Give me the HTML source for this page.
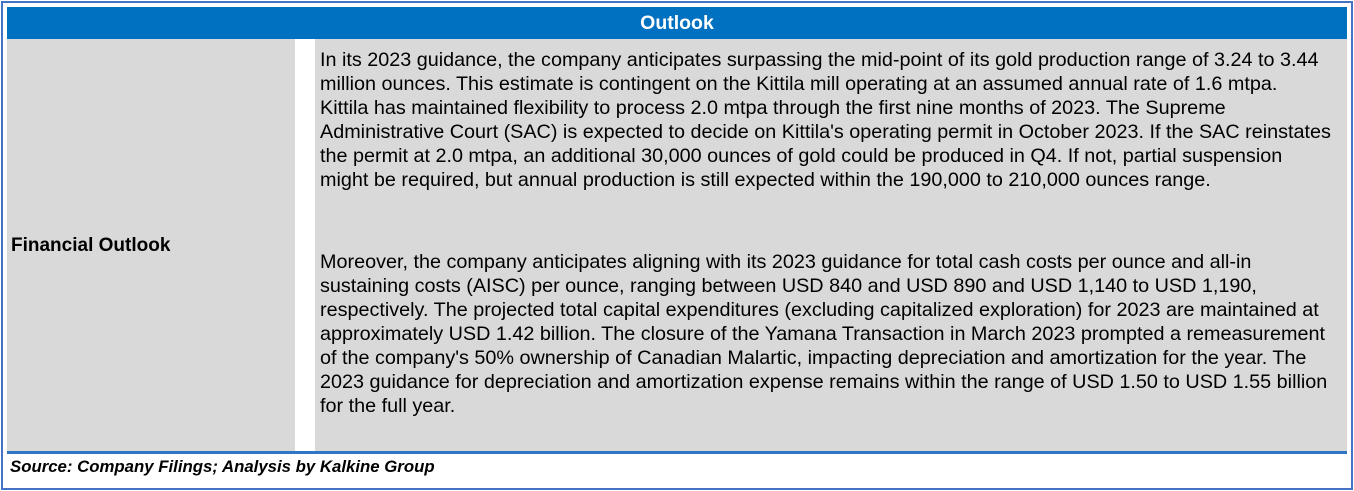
<!DOCTYPE html>
<html><head><meta charset="utf-8"><style>
html,body{margin:0;padding:0;background:#fff;}
body{width:1354px;height:491px;position:relative;overflow:hidden;font-family:"Liberation Sans",sans-serif;color:#000;}
#frame{position:absolute;left:1px;top:1px;width:1348px;height:485px;border:2px solid #4472C4;}
#hdr{position:absolute;left:7px;top:7px;width:1340px;height:32px;background:#0070C0;color:#fff;font-weight:bold;font-size:19.5px;text-align:center;line-height:32px;}
#lc{position:absolute;left:7px;top:39px;width:288px;height:413px;background:#D9D9D9;}
#lc span{position:absolute;left:4px;top:196px;font-weight:bold;font-size:19px;}
#rc{position:absolute;left:315px;top:39px;width:1032px;height:413px;background:#D9D9D9;overflow:hidden;}
.l{position:absolute;left:5px;white-space:nowrap;font-size:19.8px;line-height:24px;}
#rule{position:absolute;left:7px;top:451px;width:1340px;height:3px;background:#2E75C6;}
#src{position:absolute;left:10px;top:457px;font-weight:bold;font-style:italic;font-size:16.8px;}
</style></head><body>
<div id="frame"></div>
<div id="hdr">Outlook</div>
<div id="lc"><span>Financial Outlook</span></div>
<div id="rc">
<div class="l" style="top:9px">In its 2023 guidance, the company anticipates surpassing the mid-point of its gold production range of 3.24 to 3.44</div>
<div class="l" style="top:33px">million ounces. This estimate is contingent on the Kittila mill operating at an assumed annual rate of 1.6 mtpa.</div>
<div class="l" style="top:57px">Kittila has maintained flexibility to process 2.0 mtpa through the first nine months of 2023. The Supreme</div>
<div class="l" style="top:81px">Administrative Court (SAC) is expected to decide on Kittila's operating permit in October 2023. If the SAC reinstates</div>
<div class="l" style="top:105px">the permit at 2.0 mtpa, an additional 30,000 ounces of gold could be produced in Q4. If not, partial suspension</div>
<div class="l" style="top:129px">might be required, but annual production is still expected within the 190,000 to 210,000 ounces range.</div>
<div class="l" style="top:211px">Moreover, the company anticipates aligning with its 2023 guidance for total cash costs per ounce and all-in</div>
<div class="l" style="top:235px">sustaining costs (AISC) per ounce, ranging between USD 840 and USD 890 and USD 1,140 to USD 1,190,</div>
<div class="l" style="top:259px">respectively. The projected total capital expenditures (excluding capitalized exploration) for 2023 are maintained at</div>
<div class="l" style="top:283px">approximately USD 1.42 billion. The closure of the Yamana Transaction in March 2023 prompted a remeasurement</div>
<div class="l" style="top:307px">of the company's 50% ownership of Canadian Malartic, impacting depreciation and amortization for the year. The</div>
<div class="l" style="top:331px">2023 guidance for depreciation and amortization expense remains within the range of USD 1.50 to USD 1.55 billion</div>
<div class="l" style="top:355px">for the full year.</div>
</div>
<div id="rule"></div>
<div id="src">Source: Company Filings; Analysis by Kalkine Group</div>
</body></html>
